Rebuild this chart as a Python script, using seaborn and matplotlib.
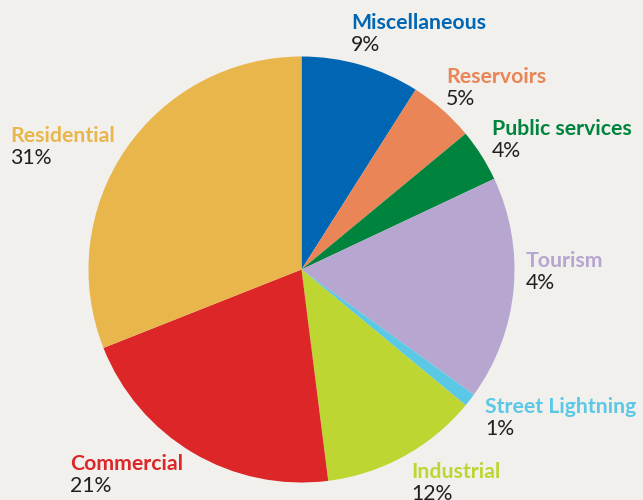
import matplotlib
matplotlib.use("Agg")
import matplotlib.pyplot as plt
import seaborn as sns

categories = ["Miscellaneous", "Reservoirs", "Public services", "Tourism",
              "Street Lightning", "Industrial", "Commercial", "Residential"]
values = [9, 5, 4, 17, 1, 12, 21, 31]
pct_labels = ["9%", "5%", "4%", "4%", "1%", "12%", "21%", "31%"]
colors = ["#0066B3", "#E98556", "#00843D", "#B7A6D0",
          "#5BC8E6", "#BDD631", "#DC2628", "#E9B64B"]
# label anchor (left x, name baseline y) in pixels from top-left
label_pos = [(351, 29), (446, 83), (492, 135), (526, 267),
             (485, 413), (411, 478), (70, 470), (10, 142)]

sns.set_theme(style="white")
plt.rcParams["font.family"] = ["Lato", "DejaVu Sans"]

W, H = 643, 500
bg = "#F1F0ED"
fig = plt.figure(figsize=(W / 100, H / 100), dpi=100, facecolor=bg)
ax = fig.add_axes([0, 0, 1, 1])
ax.set_facecolor(bg)

cx, cy, R = 301.5, 269.5, 213.0
ax.pie(values, colors=colors, startangle=90, counterclock=False,
       radius=1.0, wedgeprops=dict(linewidth=0))
ax.set_aspect("auto")
ax.set_xlim(-cx / R, (W - cx) / R)
ax.set_ylim(-(H - cy) / R, cy / R)
ax.axis("off")

for cat, pct, col, (x, y) in zip(categories, pct_labels, colors, label_pos):
    fig.text(x / W, 1 - y / H, cat, color=col, fontsize=15.3,
             fontweight="bold", ha="left", va="baseline")
    fig.text(x / W, 1 - (y + 22) / H, pct, color="#231F20", fontsize=15.3,
             ha="left", va="baseline")

fig.savefig("out.png", dpi=100, facecolor=bg)
